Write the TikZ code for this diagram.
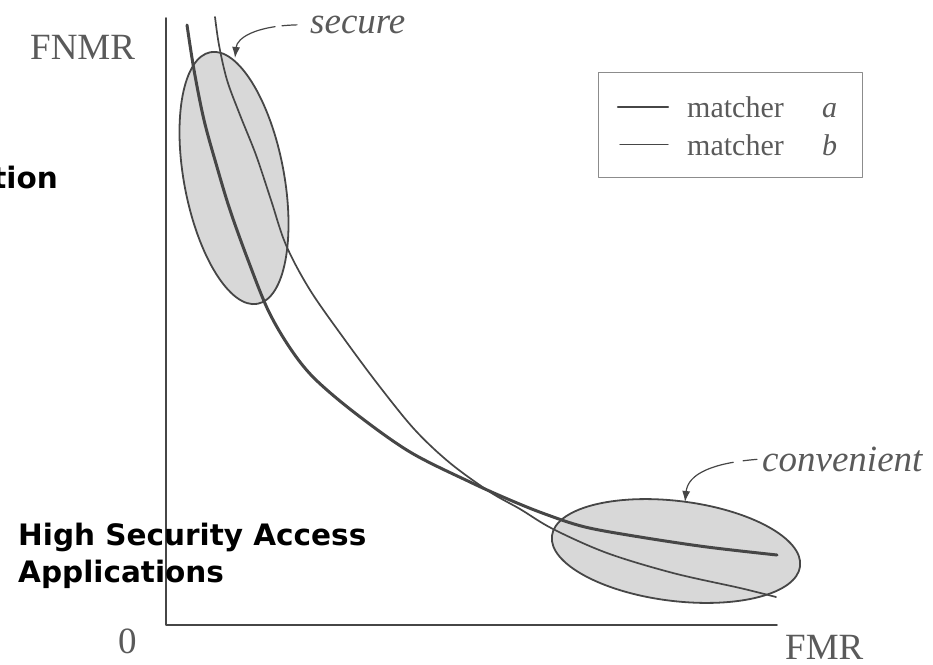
\documentclass[tikz,border=0pt]{standalone}
\usepackage{fontspec}
\setmainfont{Liberation Serif}
\newfontfamily\hsafont{DejaVu Sans}
\usetikzlibrary{arrows.meta, positioning}
\definecolor{ink}{RGB}{70, 70, 70}
\definecolor{print}{RGB}{90, 90, 90}
\definecolor{shade}{RGB}{216, 216, 216}
\definecolor{frame}{RGB}{140, 140, 140}

\begin{document}
\begin{tikzpicture}[x=1pt, y=-1pt, line join=round, line cap=round,
  lbl/.style={inner sep=0pt, text=print, font=\fontsize{37}{40}\selectfont},
  keytext/.style={inner sep=0pt, text=print, font=\fontsize{30}{32}\selectfont},
  boldtext/.style={inner sep=0pt, font=\hsafont\bfseries\fontsize{29.5}{37}\selectfont},
  zone/.style={draw=ink, line width=1.8pt, fill=shade},
  callout/.style={draw=ink, line width=1.2pt, -{Latex[length=11pt,width=8pt]}},
  matchA/.style={draw=ink, line width=3pt},
  matchB/.style={draw=ink, line width=1.7pt}]
  \useasboundingbox (0,0) rectangle (933,664);

  % axes
  \coordinate (origin) at (166,625);
  \coordinate (ytop) at (166,18);
  \coordinate (xend) at (777,625);
  \draw[ink, line width=1.8pt] (ytop) -- (origin) -- (xend);
  \node[lbl, anchor=base west] (fnmr) at (30,59) {FNMR};
  \node[lbl, anchor=base west] (zero) at (118,653) {0};
  \node[lbl, anchor=base west] (fmr) at (785,659) {FMR};

  % operating regions
  \draw[zone, rotate around={10.6:(234,178)}] (234,178) ellipse (50 and 128);
  \draw[zone, rotate around={-7:(676,551)}] (676,551) ellipse (125 and 50);

  % ROC curves
  \draw[matchA] plot[smooth, tension=0.55] coordinates {(187,25) (194,70)
    (204,120) (217,167) (230,210) (248,260) (268,310) (290,348) (314,378)
    (355,413) (410,452) (470,482) (510,500) (545,514) (585,527) (640,537)
    (707,547) (777,555)};
  \draw[matchB] plot[smooth, tension=0.55] coordinates {(215,17) (219,45)
    (227,80) (240,115) (256,155) (271,200) (286,245) (310,290) (345,340)
    (380,387) (415,430) (450,463) (490,492) (520,509) (553,529) (607,553)
    (673,573) (740,588) (776,597)};

  % callouts
  \node[lbl, anchor=base west, font=\fontsize{37}{40}\selectfont\itshape] (secure) at (310,33) {secure};
  \coordinate (secTip) at (235,58);
  \draw[callout, shorten <=13pt, dash pattern=on 15pt off 7pt on 300pt]
    (secure.west) .. controls (255,26) and (237,38) .. (secTip);
  \node[lbl, anchor=base west, font=\fontsize{37}{40}\selectfont\itshape] (conv) at (762,471) {convenient};
  \coordinate (convTip) at (685,502);
  \draw[callout, shorten <=5pt, dash pattern=on 14pt off 10pt on 300pt]
    (conv.west) .. controls (712,463) and (688,474) .. (convTip);

  % legend
  \node[draw=frame, line width=1pt, inner sep=0pt, minimum width=264pt,
    minimum height=105pt, anchor=north west] (legend) at (598,72) {};
  \node[keytext, anchor=base west] (ma) at (687,117) {matcher};
  \node[keytext, anchor=base west] (mb) at (687,155) {matcher};
  \node[keytext, anchor=base west, font=\fontsize{30}{32}\selectfont\itshape] (la) at (822,117) {a};
  \node[keytext, anchor=base west, font=\fontsize{30}{32}\selectfont\itshape] (lb) at (822,155) {b};
  \draw[ink, line width=2.2pt] ([xshift=-19pt]ma.west) -- ++(-50,0);
  \draw[ink, line width=1.2pt] ([xshift=-19pt]mb.west) -- ++(-48,0);

  % overlaid slide text
  \node[boldtext, anchor=base east] (tion) at (58,188) {tion};
  \node[boldtext, anchor=base west] (hsa) at (18,545) {High Security Access};
  \node[boldtext, anchor=base west] (apps) at ([yshift=-37pt]hsa.base west) {Applications};
\end{tikzpicture}
\end{document}
